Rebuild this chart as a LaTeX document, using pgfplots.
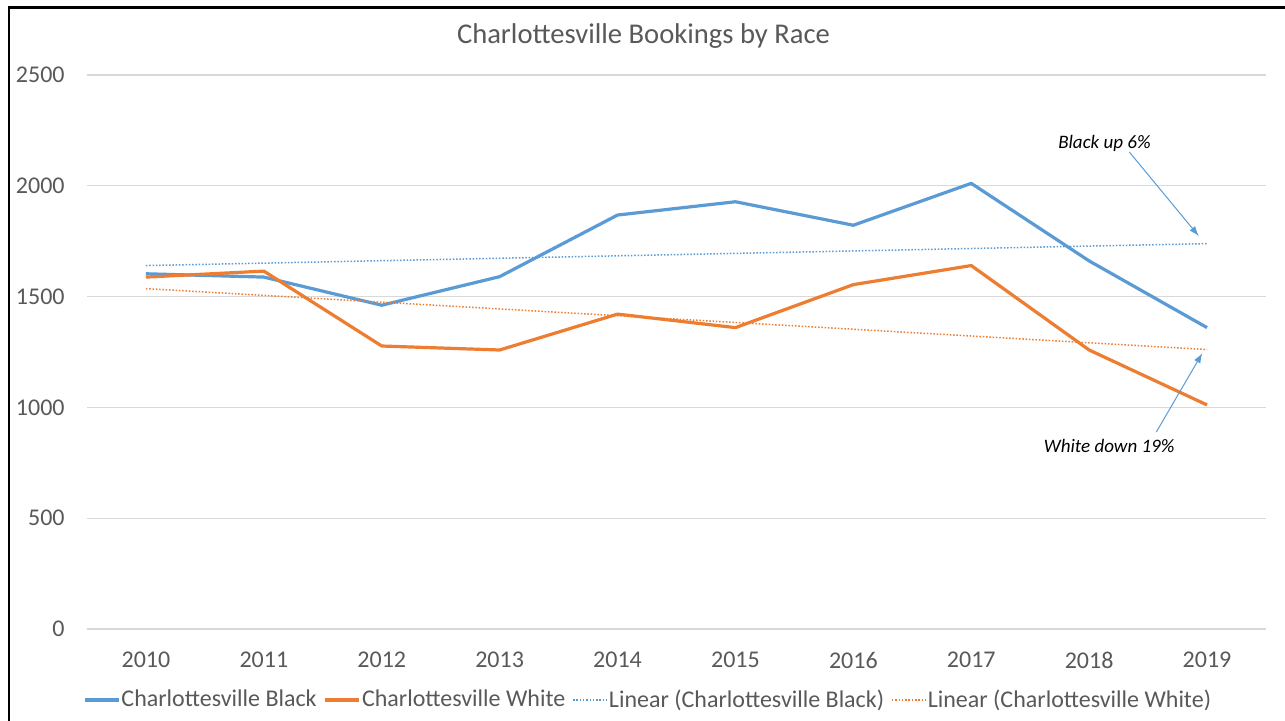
\documentclass[border=0pt]{standalone}
\usepackage{pgfplots}
\pgfplotsset{compat=1.18}
\usepackage{fontspec}
\setmainfont{Carlito}
\usetikzlibrary{arrows.meta}
\definecolor{cblue}{HTML}{5B9BD5}
\definecolor{corange}{HTML}{ED7D31}
\definecolor{tgrey}{HTML}{595959}
\definecolor{ggrid}{HTML}{D9D9D9}
\begin{document}
\begin{tikzpicture}
\useasboundingbox (0,0) rectangle (642.5pt,360.5pt);
\fill[white] (0,0) rectangle (642.5pt,360.5pt);
\draw[black, line width=1.1pt] (4.6pt,0) -- (4.6pt,356.7pt) -- (642.5pt,356.7pt);
\node[anchor=base, text=tgrey, font=\fontsize{14.3}{16}\selectfont, inner sep=0pt] at (321.75pt,338.5pt) {Charlottesville Bookings by Race};
\begin{axis}[
  at={(43.5pt,46pt)}, anchor=south west,
  scale only axis, width=589.5pt, height=277pt,
  xmin=-0.5, xmax=9.5, ymin=0, ymax=2500,
  xtick={0,1,2,3,4,5,6,7,8,9},
  xticklabels={2010,2011,2012,2013,2014,2015,2016,2017,2018,2019},
  ytick={0,500,1000,1500,2000,2500},
  ymajorgrids, grid style={ggrid, line width=0.6pt},
  axis line style={draw=none}, major tick length=0pt,
  tick label style={text=tgrey, font=\fontsize{12}{14}\selectfont},
  /pgf/number format/assume math mode=true,
  /pgf/number format/1000 sep={},
  yticklabel style={anchor=east, inner sep=0pt, xshift=-11pt},
  xticklabel style={anchor=center, inner sep=0pt, yshift=-15.5pt},
  legend columns=4,
  legend style={draw=none, fill=none, at={(0.4755,-0.128)}, anchor=center,
    font=\fontsize{12}{14}\selectfont, text=tgrey,
    nodes={inner xsep=0.5pt},
    /tikz/every even column/.append style={column sep=3pt}},
  legend cell align=left,
  clip=false,
]
\addplot[cblue, line width=1.6pt, line join=round] coordinates {(0,1603)(1,1588)(2,1461)(3,1590)(4,1868)(5,1928)(6,1822)(7,2011)(8,1661)(9,1360)};
\addlegendentry{Charlottesville Black}
\addplot[corange, line width=1.6pt, line join=round] coordinates {(0,1588)(1,1615)(2,1277)(3,1259)(4,1421)(5,1360)(6,1554)(7,1640)(8,1259)(9,1011)};
\addlegendentry{Charlottesville White}
\addplot[cblue, line width=0.75pt, dash pattern=on 0.75pt off 0.9pt] coordinates {(0,1640)(9,1739)};
\addlegendentry{Linear (Charlottesville Black)}
\addplot[corange, line width=0.75pt, dash pattern=on 0.75pt off 0.9pt] coordinates {(0,1536)(9,1261)};
\addlegendentry{Linear (Charlottesville White)}
\node[font=\itshape\fontsize{9.5}{11}\selectfont, text=black] at (axis cs:8.13,2189) {Black up 6\%};
\draw[cblue, line width=0.5pt, -{Latex[length=5pt,width=3.5pt]}] (axis cs:8.34,2153) -- (axis cs:8.93,1773);
\node[font=\itshape\fontsize{9.5}{11}\selectfont, text=black] at (axis cs:8.17,826) {White down 19\%};
\draw[cblue, line width=0.5pt, -{Latex[length=5pt,width=3.5pt]}] (axis cs:8.57,889) -- (axis cs:8.96,1245);
\end{axis}
\end{tikzpicture}
\end{document}
